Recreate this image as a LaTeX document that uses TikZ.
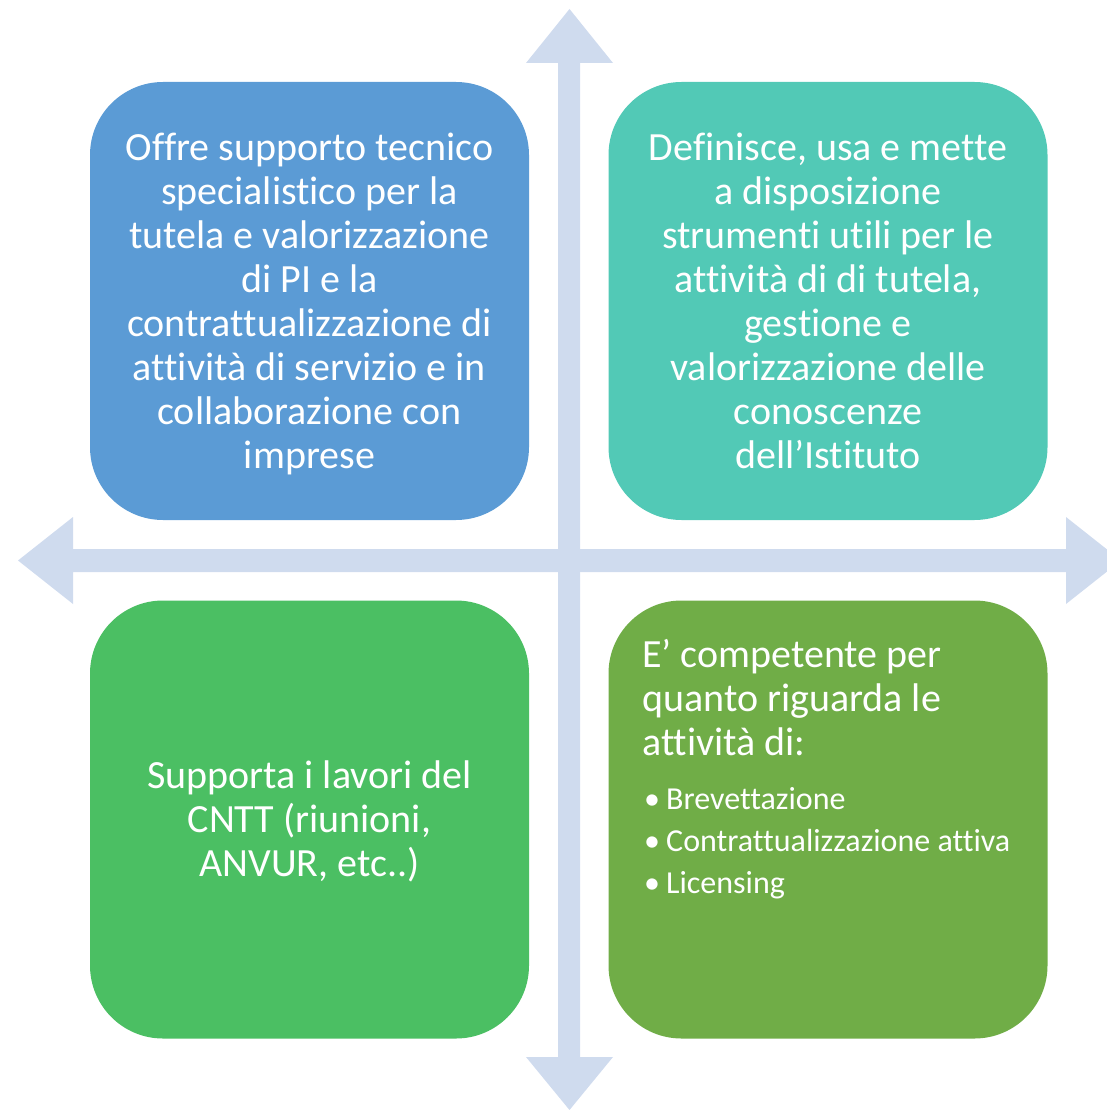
\documentclass[tikz,border=0pt]{standalone}
\usepackage{fontspec}
\setmainfont{Carlito}[Ligatures=NoCommon, Contextuals=NoAlternate]
\definecolor{arrowc}{HTML}{CFDBEE}
\definecolor{cblue}{HTML}{5B9BD5}
\definecolor{cteal}{HTML}{52C9B6}
\definecolor{cgreen}{HTML}{4BBF63}
\definecolor{colive}{HTML}{70AD47}
\begin{document}
\begin{tikzpicture}[x=1pt,y=-1pt,
  quad/.style={rounded corners=73pt, minimum width=439pt, minimum height=438pt,
    inner sep=0pt, text=white, align=center,
    font=\fontsize{40}{44}\selectfont},
  bigtxt/.style={text=white, inner sep=0pt, align=left, font=\fontsize{40}{44}\selectfont},
  smalltxt/.style={text=white, inner sep=0pt, align=left, font=\fontsize{32}{42}\selectfont}]
\useasboundingbox (0,0) rectangle (1107,1110);
\clip (0,0) rectangle (1107,1110);
% axes
\fill[arrowc] (558,63) -- (526,63) -- (569.5,9) -- (613,63) -- (580,63) -- (580,1057)
  -- (613,1057) -- (569.5,1110) -- (526,1057) -- (558,1057) -- cycle;
\fill[arrowc] (73,549) -- (73,517) -- (18,560.5) -- (73,604) -- (73,572) -- (1066,572)
  -- (1066,604) -- (1121,560.5) -- (1066,517) -- (1066,549) -- cycle;
% boxes
\node[quad, fill=cblue] (tl) at (309.5,301) {\begin{tabular}{@{}c@{}}\rule{0pt}{41pt}Offre supporto tecnico\\ specialistico per la\\ tutela e valorizzazione\\ di PI e la\\ contrattualizzazione di\\ attività di servizio e in\\ collaborazione con\\ imprese\end{tabular}};
\node[quad, fill=cteal] (tr) at (828,301) {\begin{tabular}{@{}c@{}}\rule{0pt}{41pt}Definisce, usa e mette\\ a disposizione\\ strumenti utili per le\\ attività di di tutela,\\ gestione e\\ valorizzazione delle\\ conoscenze\\ dell’Istituto\end{tabular}};
\node[quad, fill=cgreen] (bl) at (309.5,819.5) {\begin{tabular}{@{}c@{}}\rule{0pt}{39pt}Supporta i lavori del\\ CNTT (riunioni,\\ ANVUR, etc..)\end{tabular}};
\node[quad, fill=colive] (br) at (828,819.5) {};
\node[bigtxt, anchor=north west] (brhead) at (642,639) {E’ competente per\\ quanto riguarda le\\ attività di:};
\node[smalltxt, anchor=north west] (brlist) at (644,787) {\makebox[22pt][l]{•}Brevettazione\\ \makebox[22pt][l]{•}Contrattualizzazione attiva\\ \makebox[22pt][l]{•}Licensing};
\end{tikzpicture}
\end{document}
